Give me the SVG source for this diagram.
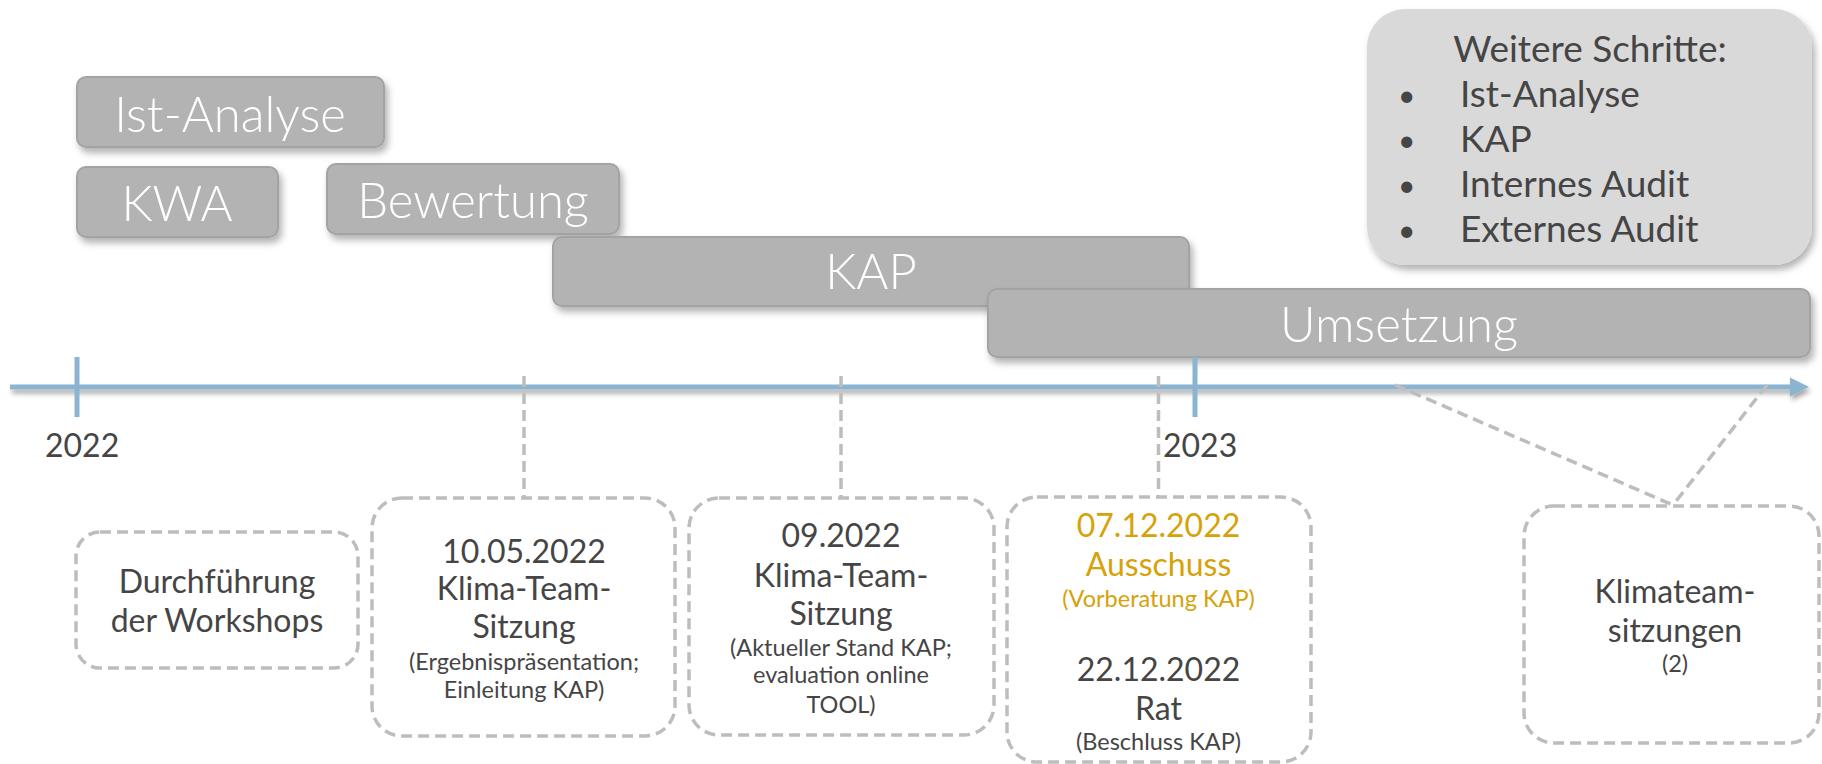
<svg xmlns="http://www.w3.org/2000/svg" width="1822" height="764" viewBox="0 0 1822 764">
<defs>
<filter id="sh" x="-10%" y="-20%" width="130%" height="160%">
<feDropShadow dx="3" dy="5" stdDeviation="3.5" flood-color="#000" flood-opacity="0.3"/>
</filter>
<filter id="lsh" filterUnits="userSpaceOnUse" x="0" y="360" width="1822" height="60">
<feDropShadow dx="2" dy="4" stdDeviation="2.5" flood-color="#000" flood-opacity="0.35"/>
</filter>
<style>
text{font-family:Lato,"Open Sans","Liberation Sans",sans-serif;}
.bar{fill:#B3B3B3;stroke:#A3A3A3;stroke-width:2;filter:url(#sh);}
.bt{fill:#FFFFFF;font-size:49px;text-anchor:middle;font-weight:300;}
.db{fill:#FFFFFF;stroke:#BDBDBD;stroke-width:3.5;stroke-dasharray:11 6;}
.dl{fill:none;stroke:#BDBDBD;stroke-width:3.5;stroke-dasharray:11 6;}
.big{fill:#454545;font-size:32px;text-anchor:middle;}
.sm{fill:#454545;font-size:23.5px;text-anchor:middle;}
.or{fill:#D6A208;}
.yr{fill:#454545;font-size:32px;}
.tick{stroke:#8BB4D0;stroke-width:5;}
.ws{fill:#454545;font-size:37px;}
.bu{fill:#454545;font-size:30px;}
</style>
</defs>
<rect width="1822" height="764" fill="#FFFFFF"/>

<g id="weitere-schritte">
<rect x="1367" y="9" width="445" height="256" rx="38" fill="#D9D9D9" filter="url(#sh)"/>
<text class="ws" x="1590" y="62" text-anchor="middle">Weitere Schritte:</text>
<text class="bu" x="1398" y="106">•</text><text class="ws" x="1460" y="107">Ist-Analyse</text>
<text class="bu" x="1398" y="151">•</text><text class="ws" x="1460" y="152">KAP</text>
<text class="bu" x="1398" y="196">•</text><text class="ws" x="1460" y="197">Internes Audit</text>
<text class="bu" x="1398" y="241">•</text><text class="ws" x="1460" y="242">Externes Audit</text>
</g>

<g id="ist-analyse">
<rect class="bar" x="77" y="77" width="307" height="70" rx="9"/>
<text class="bt" x="230" y="132">Ist-Analyse</text>
</g>
<g id="kwa">
<rect class="bar" x="77" y="167" width="201" height="70" rx="9"/>
<text class="bt" x="177" y="221">KWA</text>
</g>
<g id="bewertung">
<rect class="bar" x="327" y="164" width="292" height="70" rx="9"/>
<text class="bt" x="473" y="218">Bewertung</text>
</g>
<g id="kap">
<rect class="bar" x="553" y="237" width="636" height="69" rx="9"/>
<text class="bt" x="871" y="289">KAP</text>
</g>
<g id="umsetzung">
<rect class="bar" x="988" y="289" width="822" height="68" rx="9"/>
<text class="bt" x="1399" y="342">Umsetzung</text>
</g>

<g id="connectors">
<g filter="url(#lsh)">
<line x1="10" y1="387" x2="1792" y2="387" stroke="#8BB4D0" stroke-width="5"/>
<path d="M1790,377.5 L1809,387 L1790,396.5 z" fill="#8BB4D0"/>
</g>
<line class="tick" x1="77" y1="357" x2="77" y2="417"/>
<line class="tick" x1="1195" y1="357" x2="1195" y2="417"/>
<line class="dl" x1="524" y1="376" x2="524" y2="498"/>
<line class="dl" x1="841" y1="376" x2="841" y2="498"/>
<line class="dl" x1="1158.5" y1="376" x2="1158.5" y2="497"/>
<line class="dl" x1="1395" y1="385" x2="1673" y2="505"/>
<line class="dl" x1="1767" y1="385" x2="1673" y2="505"/>
</g>

<g id="year-labels">
<text class="yr" x="45" y="457">2022</text>
<text class="yr" x="1163" y="457">2023</text>
</g>

<g id="workshops">
<rect class="db" x="76" y="532" width="282" height="136" rx="24"/>
<text class="big" x="217" y="593">Durchführung</text>
<text class="big" x="217" y="632">der Workshops</text>
</g>

<g id="sitzung-1">
<rect class="db" x="372" y="498" width="303" height="238" rx="30"/>
<text class="big" x="524" y="563">10.05.2022</text>
<text class="big" x="524" y="600">Klima-Team-</text>
<text class="big" x="524" y="638">Sitzung</text>
<text class="sm" x="524" y="670">(Ergebnispräsentation;</text>
<text class="sm" x="524" y="698">Einleitung KAP)</text>
</g>

<g id="sitzung-2">
<rect class="db" x="689" y="498" width="305" height="237" rx="30"/>
<text class="big" x="841" y="547">09.2022</text>
<text class="big" x="841" y="587">Klima-Team-</text>
<text class="big" x="841" y="625">Sitzung</text>
<text class="sm" x="841" y="656">(Aktueller Stand KAP;</text>
<text class="sm" x="841" y="683">evaluation online</text>
<text class="sm" x="841" y="713">TOOL)</text>
</g>

<g id="ausschuss-rat">
<rect class="db" x="1007" y="497" width="304" height="265" rx="30"/>
<text class="big or" x="1158.5" y="537">07.12.2022</text>
<text class="big or" x="1158.5" y="576">Ausschuss</text>
<text class="sm or" x="1158.5" y="607">(Vorberatung KAP)</text>
<text class="big" x="1158.5" y="681">22.12.2022</text>
<text class="big" x="1158.5" y="720">Rat</text>
<text class="sm" x="1158.5" y="750">(Beschluss KAP)</text>
</g>

<g id="klimateamsitzungen">
<rect class="db" x="1524" y="506" width="295" height="237" rx="30"/>
<text class="big" x="1675" y="603">Klimateam-</text>
<text class="big" x="1675" y="642">sitzungen</text>
<text class="sm" x="1675" y="672">(2)</text>
</g>
</svg>
